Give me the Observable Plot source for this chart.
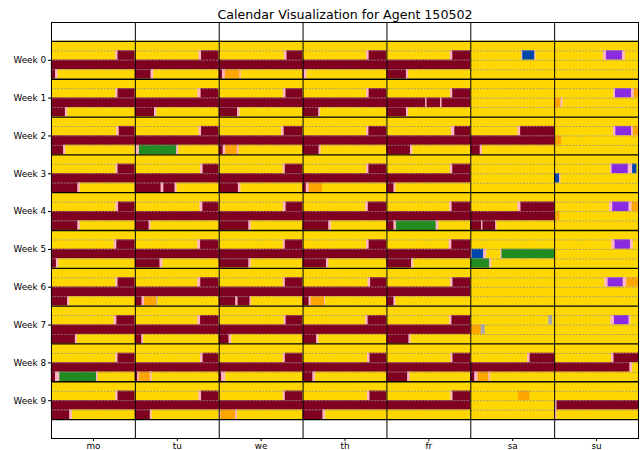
<!DOCTYPE html>
<html><head><meta charset="utf-8">
<script src="https://cdn.jsdelivr.net/npm/d3@7"></script>
<script src="https://cdn.jsdelivr.net/npm/@observablehq/plot@0.6"></script>
<style>body{margin:0;background:#fff}</style>
</head><body><div id="chart"></div>
<script>
const title = "Calendar Visualization for Agent 150502";
const days = ["mo", "tu", "we", "th", "fr", "sa", "su"];
const weekLabels = ["Week 0", "Week 1", "Week 2", "Week 3", "Week 4", "Week 5", "Week 6", "Week 7", "Week 8", "Week 9"];
const activityCodes = ["Y", "R", "P", "O", "G", "B", "V", "S"];
const activityColors = ["#FFD700", "#800020", "#FFB6C1", "#FFA500", "#228B22", "#0047AB", "#8A2BE2", "#A9A9A9"];

// each day: 4 stripes; each stripe: "Code<end fraction>" tokens, the last running to 1
const week0 = [
  ["Y", "Y.77 P.795 R", "R", "R.05 P.08 Y"],
  ["Y", "Y.762 P.79 R", "R", "R.19 P.22 Y"],
  ["Y", "Y.778 P.81 R", "R", "R.04 P.075 O.25 P.265 Y"],
  ["Y", "Y.758 P.79 R", "R", "R.015 P.05 Y"],
  ["Y", "Y.758 P.786 R", "R", "R.234 P.26 Y"],
  ["Y", "Y.607 P.62 B.766 P.78 Y", "Y", "Y"],
  ["Y", "Y.583 P.619 V.81 P.845 Y", "Y", "Y"]
];
const week1 = [
  ["Y", "Y.77 P.795 R", "R", "R.167 P.195 Y"],
  ["Y", "Y.75 P.786 R", "R", "R.23 P.26 Y"],
  ["Y", "Y.766 P.798 R", "R", "R.22 P.25 Y"],
  ["Y", "Y.758 P.79 R", "R", "R.19 P.21 Y"],
  ["Y", "Y.758 P.786 R", "R.464 P.48 R.643 P.66 R", "R.234 P.26 Y"],
  ["Y", "Y", "Y", "Y"],
  ["Y", "Y.707 P.726 V.92 P.952 O", "O.08 P.1 Y", "Y"]
];
const week2 = [
  ["Y", "Y.78 P.81 R", "R", "R.147 P.172 Y"],
  ["Y", "Y.762 P.79 R", "R", "P.05 G.496 P.52 Y"],
  ["Y", "Y.746 P.777 R", "R", "R.05 P.078 O.218 P.24 Y"],
  ["Y", "Y.758 P.786 R", "R", "R.194 P.218 Y"],
  ["Y", "Y.77 P.81 R", "R", "R.282 P.31 Y"],
  ["Y", "Y.567 P.595 R", "R", "R.115 P.14 Y"],
  ["Y", "Y.702 P.73 V.92 P.94 O", "O.09 Y", "Y"]
];
const week3 = [
  ["Y", "Y.77 P.795 R", "R", "R.317 P.345 Y"],
  ["Y", "Y.78 P.81 R", "R", "R.31 P.34 R.476 P.5 Y"],
  ["Y", "Y.766 P.79 R", "R", "R.23 P.26 Y"],
  ["Y", "Y.758 P.786 R", "R", "R.04 P.075 O.234 Y"],
  ["Y", "Y.758 P.786 R", "R", "R.087 P.11 Y"],
  ["Y", "Y", "Y", "Y"],
  ["Y", "Y.667 P.687 V.88 P.93 B.985 Y", "B.06 P.075 Y", "Y"]
];
const week4 = [
  ["Y", "Y.77 P.8 R", "R", "R.317 P.345 Y"],
  ["Y", "Y.774 P.806 R", "R", "R.167 P.19 Y"],
  ["Y", "Y.766 P.8 R", "R", "R.357 P.385 Y"],
  ["Y", "Y.75 P.78 R", "R", "R.31 P.34 Y"],
  ["Y", "Y.75 P.78 R", "R", "R.087 P.115 G.59 P.62 Y"],
  ["Y", "Y.567 P.6 R", "R", "R.13 P.146 R.3 P.315 Y"],
  ["Y", "Y.655 P.694 V.89 P.926 O", "O.068 Y", "Y"]
];
const week5 = [
  ["Y", "Y.75 P.78 R", "R", "R.06 P.09 Y"],
  ["Y", "Y.746 P.778 R", "R", "R.297 P.33 Y"],
  ["Y", "Y.766 P.79 R", "R", "R.357 P.385 Y"],
  ["Y", "Y.758 P.79 R", "R", "R.28 P.31 Y"],
  ["Y", "Y.745 P.775 R", "R", "R.294 P.32 Y"],
  ["Y", "Y", "P.02 B.155 P.19 Y.36 P.374 G", "G.226 P.25 Y"],
  ["Y", "Y.686 P.722 V.905 P.94 Y", "Y", "Y"]
];
const week6 = [
  ["Y", "Y.77 P.795 R", "R", "R.195 P.22 Y"],
  ["Y", "Y.746 P.78 R", "R", "R.083 P.11 O.26 S.27 Y"],
  ["Y", "Y.766 P.79 R", "R", "R.2 P.226 R.37 P.385 Y"],
  ["Y", "Y.778 P.806 R", "R", "R.075 P.1 O.26 P.27 Y"],
  ["Y", "Y.762 P.79 R", "R", "R.087 P.11 Y"],
  ["Y", "Y", "Y", "Y"],
  ["Y", "Y.6 P.64 V.82 P.86 O", "Y", "Y"]
];
const week7 = [
  ["Y", "Y.75 P.78 R", "R", "R.286 P.31 Y"],
  ["Y", "Y.746 P.778 R", "R", "R.08 P.1 Y"],
  ["Y", "Y.777 P.8 R", "R", "R.12 P.15 Y"],
  ["Y", "Y.75 P.778 R", "R", "R.163 P.19 Y"],
  ["Y", "Y.752 P.776 R", "R", "R.266 P.29 Y"],
  ["Y", "Y.932 S.98 Y", "O.127 S.175 Y", "Y"],
  ["Y", "Y.675 P.714 V.89 P.91 Y", "Y", "Y"]
];
const week8 = [
  ["Y", "Y.77 P.795 R", "R", "R.05 P.1 G.54 P.56 Y"],
  ["Y", "Y.78 P.81 R", "R", "R.03 P.05 O.18 P.2 Y"],
  ["Y", "Y.766 P.79 R", "R", "R.03 P.08 Y"],
  ["Y", "Y.77 P.8 R", "R", "R.12 P.15 Y"],
  ["Y", "Y.766 P.79 R", "R", "R.25 P.28 Y"],
  ["Y", "Y.68 P.71 R", "R", "R.05 P.09 O.22 P.24 Y"],
  ["Y", "Y.68 P.71 R", "R.9 P.93 Y", "Y"]
];
const week9 = [
  ["Y", "Y.77 P.795 R", "R", "R.22 P.25 Y"],
  ["Y", "Y.762 P.79 R", "R", "R.18 P.2 Y"],
  ["Y", "Y.766 P.79 R", "R", "P.02 O.2 P.22 Y"],
  ["Y", "Y.77 P.8 R", "R", "R.24 P.27 Y"],
  ["Y", "Y.766 P.79 R", "R", "Y"],
  ["Y", "Y.57 O.71 Y", "Y", "Y"],
  ["Y", "Y", "P.03 R", "P.03 Y"]
];
const weeksData = [week0, week1, week2, week3, week4, week5, week6, week7, week8, week9];

const segments = [];
weeksData.forEach((wk, w) => wk.forEach((stripes, d) => stripes.forEach((spec, s) => {
  let start = 0;
  spec.trim().split(/\s+/).forEach(tok => {
    const cat = tok[0];
    const end = tok.length > 1 ? +tok.slice(1) : 1;
    segments.push({week: w, day: d, stripe: s, start, end, cat});
    start = end;
  });
})));

const nStripes = 4;
const dashY = [];
weekLabels.forEach((_, w) => { for (let s = 1; s < nStripes; s++) dashY.push(w - 0.5 + s / nStripes); });
const weekEdges = d3.range(weekLabels.length + 1).map(k => k - 0.5);
const dayEdges = d3.range(1, days.length);

const chart = Plot.plot({
  width: 642, height: 450,
  marginTop: 22, marginBottom: 12, marginLeft: 51, marginRight: 4,
  style: {fontFamily: "DejaVu Sans, sans-serif", fontSize: "8.8px", background: "white", color: "black", overflow: "visible"},
  x: {domain: [0, days.length]},
  y: {domain: [-1, weekLabels.length], reverse: true},
  color: {domain: activityCodes, range: activityColors},
  marks: [
    Plot.rect(segments, {
      x1: d => d.day + d.start, x2: d => d.day + d.end,
      y1: d => d.week - 0.5 + d.stripe / nStripes, y2: d => d.week - 0.5 + (d.stripe + 1) / nStripes,
      fill: "cat", stroke: "cat", strokeWidth: 0.25
    }),
    Plot.ruleY(dashY, {stroke: "#8a8a8a", strokeWidth: 0.8, strokeDasharray: "2,1.3", strokeOpacity: 0.9}),
    Plot.ruleY(weekEdges, {stroke: "black", strokeWidth: 1.3}),
    Plot.ruleX(dayEdges, {stroke: "black", strokeWidth: 1}),
    Plot.frame({stroke: "black", strokeWidth: 1}),
    Plot.axisX(days.map((_, i) => i + 0.5), {anchor: "bottom", tickFormat: d => days[Math.floor(d)], tickSize: 3, tickPadding: 1, label: null, fontSize: 8.8}),
    Plot.axisY(weekLabels.map((_, i) => i), {anchor: "left", tickFormat: d => weekLabels[d], tickSize: 3, tickPadding: 2.5, label: null, fontSize: 8.8}),
    Plot.text([title], {frameAnchor: "top", lineAnchor: "bottom", dy: -4, fontSize: 12.6, fill: "black"})
  ]
});
document.getElementById("chart").appendChild(chart);
</script>
</body></html>
